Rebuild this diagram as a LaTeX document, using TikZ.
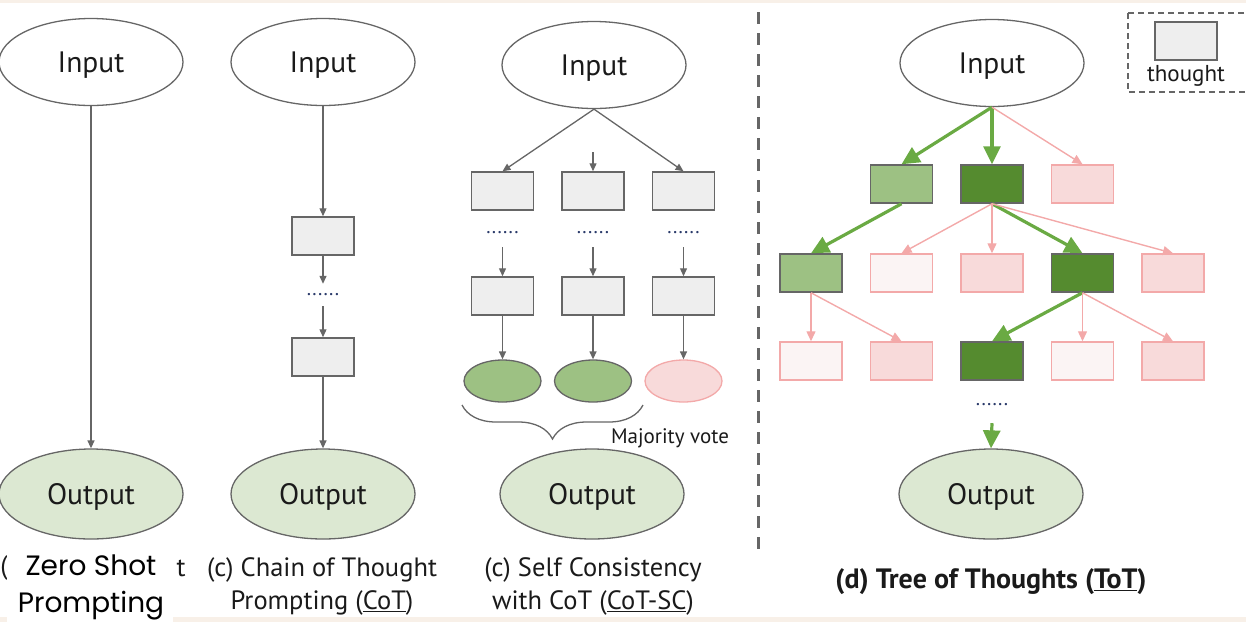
\documentclass[tikz,border=0pt]{standalone}
\usepackage{fontspec}
\setmainfont{PT Sans}
\newfontfamily\poppins{Poppins}
\usetikzlibrary{positioning,arrows.meta,shapes.geometric,decorations.pathreplacing}

\definecolor{ink}{HTML}{1A1A1A}
\definecolor{navy}{HTML}{2A3A6A}
\definecolor{boxgray}{HTML}{EEEEEE}
\definecolor{linegray}{HTML}{666666}
\definecolor{outgreen}{HTML}{DCE8D2}
\definecolor{litegreen}{HTML}{9DC183}
\definecolor{darkgreen}{HTML}{558B2F}
\definecolor{arrowgreen}{HTML}{6AAA43}
\definecolor{rosefill}{HTML}{F8DADA}
\definecolor{roseline}{HTML}{F3A9A9}
\definecolor{palefill}{HTML}{FBF4F4}
\definecolor{cream}{HTML}{F8F0E8}

\begin{document}
\begin{tikzpicture}[x=1pt,y=-1pt,on grid,node distance=89pt and 90.5pt,
    io/.style={ellipse,draw=linegray,line width=1.3pt,minimum width=184pt,minimum height=87pt,inner sep=0pt,text depth=0pt,font=\fontsize{29.5}{30}\selectfont,text=ink},
    output/.style={io,fill=outgreen,minimum height=90pt},
    thought/.style={rectangle,draw=linegray,fill=boxgray,line width=1.5pt,minimum width=62pt,minimum height=38pt,inner sep=0pt},
    good/.style={thought,fill=litegreen},
    best/.style={thought,fill=darkgreen},
    bad/.style={thought,draw=roseline,fill=rosefill},
    poor/.style={thought,draw=roseline,fill=palefill},
    answer/.style={ellipse,draw=linegray,line width=1.3pt,fill=litegreen,minimum width=77pt,minimum height=42pt,inner sep=0pt},
    wrong/.style={answer,draw=roseline,fill=rosefill},
    dots/.style={font=\fontsize{20}{20}\selectfont,text=navy,inner sep=0pt,minimum height=#1},
    dots/.default=22pt,
    plain/.style={-{Triangle[length=8pt,width=7pt]},linegray,line width=1.3pt},
    pick/.style={-{Triangle[length=18pt,width=17pt]},arrowgreen,line width=3.2pt},
    drop/.style={-{Triangle[length=10pt,width=9pt]},roseline,line width=1.4pt},
    caption/.style={font=\fontsize{26.5}{33}\selectfont,text=ink,align=center}]
  \useasboundingbox (0,0) rectangle (1246,622);
  \clip (0,0) rectangle (1246,622);
  \fill[cream] (0,0) rectangle (1246,3);
  \fill[cream] (0,617) rectangle (1246,622);

  % (a) zero shot
  \node[io] (ina) at (91,62) {Input};
  \node[output] (outa) at (91,494) {Output};
  \draw[plain] (ina) -- (outa);

  % (b) chain of thought
  \node[io] (inb) at (323,62) {Input};
  \node[thought] (b1) at (323,236) {};
  \node[dots, below=59pt of b1] (dotsb) {......};
  \node[thought, below=121pt of b1] (b2) {};
  \node[output] (outb) at (323,494) {Output};
  \draw[plain] (inb) -- (b1);
  \draw[plain] (b1) -- (dotsb);
  \draw[plain] (dotsb) -- (b2);
  \draw[plain] (b2) -- (outb);

  % (c) self consistency
  \node[io] (inc) at (594,65) {Input};
  \node[thought] (c2) at (593,191) {};
  \node[thought, left=of c2] (c1) {};
  \node[thought, right=of c2] (c3) {};
  \coordinate (c2top) at (593,152);
  \foreach \i in {1,2,3} {
    \node[dots=28pt, below=42pt of c\i] (s\i) {......};
    \node[thought, below=105pt of c\i] (d\i) {};
  }
  \node[answer, below=85pt of d1] (e1) {};
  \node[answer, below=85pt of d2] (e2) {};
  \node[wrong, below=85pt of d3] (e3) {};
  \path[plain] (inc.south) edge (c1.north) edge (c3.north)
    (c2top) edge (c2.north);
  \foreach \i in {1,2,3} {
    \draw[plain] (s\i.south) -- (d\i.north);
    \draw[plain] (d\i.south) -- (e\i.north);
  }
  \coordinate (brl) at (462,405);
  \coordinate (brr) at (643,405);
  \draw[linegray,line width=1.3pt,decorate,decoration={brace,mirror,amplitude=34pt}] (brl) -- (brr);
  \node[font=\fontsize{21}{22}\selectfont,text=ink] (vote) at (670,438) {Majority vote};
  \node[output] (outc) at (592,494) {Output};

  % separator
  \draw[linegray,line width=3pt,dash pattern=on 12pt off 9pt] (758,12) -- (758,550);

  % (d) tree of thoughts
  \node[io] (ind) at (992,63) {Input};
  \node[best] (t2) at (992,184) {};
  \node[good, left=of t2] (t1) {};
  \node[bad, right=of t2] (t3) {};
  \node[bad, below=of t2] (u3) {};
  \node[poor, left=of u3] (u2) {};
  \node[good, left=of u2] (u1) {};
  \node[best, right=of u3] (u4) {};
  \node[bad, right=of u4] (u5) {};
  \node[best, below=88pt of u3] (v3) {};
  \node[bad, left=of v3] (v2) {};
  \node[poor, left=of v2] (v1) {};
  \node[poor, right=of v3] (v4) {};
  \node[bad, right=of v4] (v5) {};
  \node[dots=36pt, below=44pt of v3] (dotsd) {......};
  \node[output] (outd) at (991,494) {Output};
  \path[pick] (ind.south) edge (t1.north) edge (t2.north)
    (t1.south) edge (u1.north)
    (t2.south) edge (u4.north)
    (u4.south) edge (v3.north)
    (dotsd.south) edge (outd.north);
  \path[drop] (ind.south) edge (t3.north)
    (t2.south) edge (u2.north) edge (u3.north) edge (u5.north)
    (u1.south) edge (v1.north) edge (v2.north)
    (u4.south) edge (v4.north) edge (v5.north);

  % legend
  \draw[linegray,line width=1.2pt,dash pattern=on 6pt off 4pt] (1128,13) rectangle (1262,92);
  \node[thought] (key) at (1186,41) {};
  \node[below=35pt of key,font=\fontsize{23}{24}\selectfont,text=ink] (keytext) {thought};

  % captions
  \node[caption] (capa) at (4,568) {(};
  \node[caption] (capt) at (181,568) {t};
  \fill[white] (7,543) rectangle (173,622);
  \node[font=\poppins\fontsize{28}{37}\selectfont,align=center] (zero) at (91,587) {Zero Shot\\Prompting};
  \node[caption] (capb) at (322,586) {(c) Chain of Thought\\Prompting (\underline{CoT})};
  \node[caption] (capc) at (593,586) {(c) Self Consistency\\with CoT (\underline{CoT-SC})};
  \node[caption,font=\bfseries\fontsize{28}{33}\selectfont] (capd) at (991,582) {(d) Tree of Thoughts (\underline{ToT})};
\end{tikzpicture}
\end{document}
